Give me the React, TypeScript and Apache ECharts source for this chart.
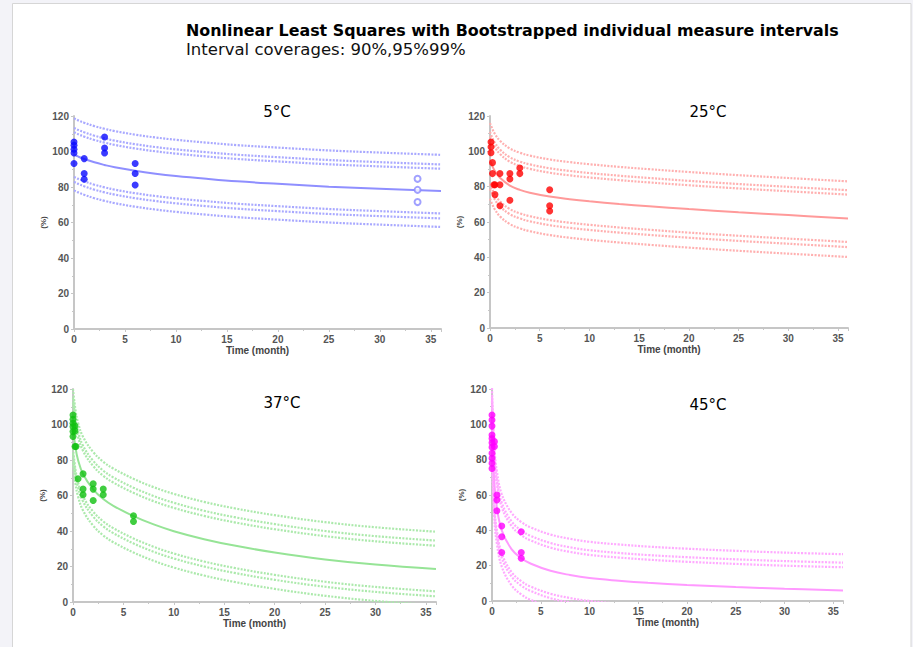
import React, { useEffect, useRef } from 'react';
import * as echarts from 'echarts';

// Time grid at which the curves were read (months)
const T = [0, 0.25, 0.5, 1, 2, 3, 4, 6, 8, 10, 13, 16, 20, 25, 30, 36];

// ---- 5°C ----
const mean5 = [98.3, 97.6, 96.9, 95.8, 93.9, 92.4, 91.1, 89.1, 87.5, 86.2, 84.6, 83.2, 81.8, 80.2, 79.0, 77.7];
const up99_5 = [118.7, 118.0, 117.3, 116.2, 114.3, 112.8, 111.5, 109.5, 107.9, 106.6, 105.0, 103.6, 102.2, 100.6, 99.4, 98.1];
const up95_5 = [113.3, 112.6, 111.9, 110.8, 108.9, 107.4, 106.1, 104.1, 102.5, 101.2, 99.6, 98.2, 96.8, 95.2, 94.0, 92.7];
const up90_5 = [110.9, 110.2, 109.5, 108.4, 106.5, 105.0, 103.7, 101.7, 100.1, 98.8, 97.2, 95.8, 94.4, 92.8, 91.6, 90.3];
const lo90_5 = [85.7, 85.0, 84.3, 83.2, 81.3, 79.8, 78.5, 76.5, 74.9, 73.6, 72.0, 70.6, 69.2, 67.6, 66.4, 65.1];
const lo95_5 = [82.9, 82.2, 81.5, 80.4, 78.5, 77.0, 75.7, 73.7, 72.1, 70.8, 69.2, 67.8, 66.4, 64.8, 63.6, 62.3];
const lo99_5 = [78.1, 77.4, 76.7, 75.6, 73.7, 72.2, 70.9, 68.9, 67.3, 66.0, 64.4, 63.0, 61.6, 60.0, 58.8, 57.5];
const pts5T = [0, 0, 0, 0, 0, 1, 1, 1, 3, 3, 3, 6, 6, 6];
const pts5V = [105.4, 103.5, 101.3, 99.2, 93.2, 96, 87.6, 84.4, 108.2, 102, 99.2, 93.2, 87.6, 81.1];
const open5T = [33.7, 33.7, 33.7];
const open5V = [84.6, 78.4, 71.5];

// ---- 25°C ----
const mean25 = [95, 91.5, 88.8, 85, 80.6, 78.2, 76.6, 74.4, 72.9, 71.7, 70.2, 68.9, 67.3, 65.5, 63.9, 62];
const up99_25 = [116, 112.5, 109.8, 106, 101.6, 99.2, 97.6, 95.4, 93.9, 92.7, 91.2, 89.9, 88.3, 86.5, 84.9, 83];
const up95_25 = [111, 107.5, 104.8, 101, 96.6, 94.2, 92.6, 90.4, 88.9, 87.7, 86.2, 84.9, 83.3, 81.5, 79.9, 78];
const up90_25 = [108.5, 105, 102.3, 98.5, 94.1, 91.7, 90.1, 87.9, 86.4, 85.2, 83.7, 82.4, 80.8, 79, 77.4, 75.5];
const lo90_25 = [81.7, 78.2, 75.5, 71.7, 67.3, 64.9, 63.3, 61.1, 59.6, 58.4, 56.9, 55.6, 54, 52.2, 50.6, 48.7];
const lo95_25 = [78.8, 75.3, 72.6, 68.8, 64.4, 62, 60.4, 58.2, 56.7, 55.5, 54, 52.7, 51.1, 49.3, 47.7, 45.8];
const lo99_25 = [73.2, 69.7, 67, 63.2, 58.8, 56.4, 54.8, 52.6, 51.1, 49.9, 48.4, 47.1, 45.5, 43.7, 42.1, 40.2];
const pts25T = [0.1, 0.1, 0.1, 0.25, 0.25, 0.4, 0.5, 0.5, 1, 1, 1, 2, 2, 2, 3, 3, 6, 6, 6];
const pts25V = [105.3, 102.5, 99.2, 93.6, 87.4, 81.1, 81.1, 75.5, 87.4, 81.1, 69.2, 87.4, 84.3, 72.3, 90.6, 87.4, 78.3, 69.2, 66.2];

// ---- 37°C ----
const mean37 = [99, 87, 80, 72, 63.5, 58, 54.2, 48.4, 43.7, 39.9, 35.4, 31.8, 27.9, 24.0, 21.1, 18.6];
const up99_37 = [120, 108, 101, 93, 84.5, 79, 75.2, 69.4, 64.7, 60.9, 56.4, 52.8, 48.9, 45, 42.1, 39.6];
const up95_37 = [115, 103, 96, 88, 79.5, 74, 70.2, 64.4, 59.7, 55.9, 51.4, 47.8, 43.9, 40, 37.1, 34.6];
const up90_37 = [112.1, 100.1, 93.1, 85.1, 76.6, 71.1, 67.3, 61.5, 56.8, 53, 48.5, 44.9, 41, 37.1, 34.2, 31.7];
const lo90_37 = [86.4, 74.4, 67.4, 59.4, 50.9, 45.4, 41.6, 35.8, 31.1, 27.3, 22.8, 19.2, 15.3, 11.4, 8.5, 6];
const lo95_37 = [83.6, 71.6, 64.6, 56.6, 48.1, 42.6, 38.8, 33, 28.3, 24.5, 20, 16.4, 12.5, 8.6, 5.7, 3.2];
const lo99_37 = [78.5, 66.5, 59.5, 51.5, 43, 37.5, 33.7, 27.9, 23.2, 19.4, 14.9, 11.3, 7.4, 3.5, 0.6, -1.9];
const pts37T = [0, 0, 0, 0, 0, 0, 0.2, 0.2, 0.2, 0.3, 0.5, 1, 1, 1, 2, 2, 2, 3, 3, 6, 6];
const pts37V = [105.4, 102.9, 100.7, 98.8, 96, 93.2, 99.2, 96.4, 87.6, 87.6, 69.4, 72.2, 63.6, 60.4, 66.6, 63.6, 57.2, 63.6, 60.4, 48.6, 45.4];

// ---- 45°C ----
const mean45 = [100, 66, 53, 40, 29.4, 24.2, 21.1, 17.1, 14.7, 13.0, 11.5, 10.3, 9.1, 7.9, 6.9, 6.0];
const up99_45 = [120.5, 86.5, 73.5, 60.5, 49.9, 44.7, 41.6, 37.6, 35.2, 33.5, 32, 30.8, 29.6, 28.4, 27.4, 26.5];
const up95_45 = [115.7, 81.7, 68.7, 55.7, 45.1, 39.9, 36.8, 32.8, 30.4, 28.7, 27.2, 26, 24.8, 23.6, 22.6, 21.7];
const up90_45 = [113.1, 79.1, 66.1, 53.1, 42.5, 37.3, 34.2, 30.2, 27.8, 26.1, 24.6, 23.4, 22.2, 21, 20, 19.1];
const lo90_45 = [87, 53, 40, 27, 16.4, 11.2, 8.1, 4.1, 1.7, 0, -1.5, -2.7, -3.9, -5.1, -6.1, -7];
const lo95_45 = [84.5, 50.5, 37.5, 24.5, 13.9, 8.7, 5.6, 1.6, -0.8, -2.5, -4, -5.2, -6.4, -7.6, -8.6, -9.5];
const lo99_45 = [79.5, 45.5, 32.5, 19.5, 8.9, 3.7, 0.6, -3.4, -5.8, -7.5, -9, -10.2, -11.4, -12.6, -13.6, -14.5];
const pts45T = [0, 0, 0, 0, 0, 0, 0, 0, 0, 0, 0, 0.25, 0.25, 0.5, 0.5, 0.5, 1, 1, 1, 3, 3, 3];
const pts45V = [105.3, 102.5, 99, 94, 92, 89.6, 87, 83.6, 80.8, 78, 75, 90.2, 87.4, 60, 57.2, 51.1, 42.5, 36.4, 27.4, 39.2, 27.4, 24.2];

const xTicks = [0, 5, 10, 15, 20, 25, 30, 35];
const yTicks = [0, 20, 40, 60, 80, 100, 120];

const panels = [
  {
    label: '5°C', grid: { left: 74, top: 116, width: 367, height: 213 }, titlePos: [277, 112],
    mean: mean5, bounds: [up99_5, up95_5, up90_5, lo90_5, lo95_5, lo99_5], ptsT: pts5T, ptsV: pts5V,
    openT: open5T, openV: open5V,
    point: '#0a0aff', line: '#8f8fff', band: '#a9a9ff',
  },
  {
    label: '25°C', grid: { left: 490, top: 116, width: 358, height: 212 }, titlePos: [708, 112],
    mean: mean25, bounds: [up99_25, up95_25, up90_25, lo90_25, lo95_25, lo99_25], ptsT: pts25T, ptsV: pts25V,
    point: '#ff0000', line: '#ff9a9a', band: '#ffb0b0',
  },
  {
    label: '37°C', grid: { left: 73, top: 389, width: 363, height: 213 }, titlePos: [282, 403],
    mean: mean37, bounds: [up99_37, up95_37, up90_37, lo90_37, lo95_37, lo99_37], ptsT: pts37T, ptsV: pts37V,
    point: '#10c010', line: '#96e496', band: '#ace9ac',
  },
  {
    label: '45°C', grid: { left: 492, top: 389, width: 351, height: 212 }, titlePos: [708, 405],
    mean: mean45, bounds: [up99_45, up95_45, up90_45, lo90_45, lo95_45, lo99_45], ptsT: pts45T, ptsV: pts45V,
    point: '#ff00ff', line: '#ff99ff', band: '#ffaaff',
  },
];

const axisFont = { fontSize: 10, fontWeight: 'bold' as const, color: '#555', fontFamily: 'Liberation Sans' };

export default function App() {
  const ref = useRef<HTMLDivElement>(null);
  useEffect(() => {
    if (!ref.current) return;
    const chart = echarts.init(ref.current, undefined, { renderer: 'svg' });
    const grids: any[] = [];
    const xAxes: any[] = [];
    const yAxes: any[] = [];
    const series: any[] = [];
    const graphics: any[] = [
      {
        type: 'rect', z: -1, silent: true,
        shape: { x: 12.5, y: 3.5, width: 898.5, height: 650 },
        style: { fill: '#ffffff', stroke: '#d6d6d6', lineWidth: 1 },
      },
      {
        type: 'text', x: 186, y: 31, scaleX: 1.06, silent: true,
        style: {
          text: 'Nonlinear Least Squares with Bootstrapped individual measure intervals',
          fill: '#000', font: 'bold 15px "DejaVu Sans"',
          align: 'left', verticalAlign: 'middle', textAlign: 'left', textVerticalAlign: 'middle',
        },
      },
      {
        type: 'text', x: 186, y: 49, silent: true,
        style: {
          text: 'Interval coverages: 90%,95%99%',
          fill: '#111', font: '16.5px "DejaVu Sans"',
          align: 'left', verticalAlign: 'middle', textAlign: 'left', textVerticalAlign: 'middle',
        },
      },
    ];

    panels.forEach((p, i) => {
      grids.push({ ...p.grid, containLabel: false });
      xAxes.push({
        type: 'value', gridIndex: i, min: 0, max: 36, interval: 5,
        name: 'Time (month)', nameLocation: 'middle', nameGap: 16,
        nameTextStyle: { ...axisFont, color: '#444' },
        axisLine: { show: true, onZero: false, lineStyle: { color: '#c6c6c6', width: 2 } },
        axisTick: { show: true, length: 3, lineStyle: { color: '#c6c6c6' } },
        minorTick: { show: true, splitNumber: 2, length: 2, lineStyle: { color: '#c6c6c6' } },
        axisLabel: { ...axisFont, margin: 5, formatter: (v: number) => (xTicks.includes(v) ? String(v) : '') },
        splitLine: { show: false },
      });
      yAxes.push({
        type: 'value', gridIndex: i, min: 0, max: 120, interval: 20,
        name: '(%)', nameLocation: 'middle', nameGap: 27, nameRotate: 90,
        nameTextStyle: { ...axisFont, fontSize: 8, color: '#444' },
        axisLine: { show: true, onZero: false, lineStyle: { color: '#c6c6c6', width: 2 } },
        axisTick: { show: true, length: 3, lineStyle: { color: '#c6c6c6' } },
        minorTick: { show: true, splitNumber: 2, length: 2, lineStyle: { color: '#c6c6c6' } },
        axisLabel: { ...axisFont, margin: 5, formatter: (v: number) => (yTicks.includes(v) ? String(v) : '') },
        splitLine: { show: false },
      });
      p.bounds.forEach((b) => {
        series.push({
          type: 'line', xAxisIndex: i, yAxisIndex: i, symbol: 'none', silent: true,
          smooth: 0.4, clip: true, z: 1,
          data: T.map((t, k) => [t, b[k]]),
          lineStyle: { color: p.band, width: 2.2, type: [2, 1.4] },
        });
      });
      series.push({
        type: 'line', xAxisIndex: i, yAxisIndex: i, symbol: 'none', silent: true,
        smooth: 0.4, clip: true, z: 2,
        data: T.map((t, k) => [t, p.mean[k]]),
        lineStyle: { color: p.line, width: 2 },
      });
      series.push({
        type: 'scatter', xAxisIndex: i, yAxisIndex: i, symbol: 'circle', symbolSize: 7, silent: true, z: 3,
        data: p.ptsT.map((t, k) => [t, p.ptsV[k]]),
        itemStyle: { color: p.point },
      });
      if (p.openT) {
        series.push({
          type: 'scatter', xAxisIndex: i, yAxisIndex: i, symbol: 'emptyCircle', symbolSize: 6, silent: true, z: 3,
          data: p.openT.map((t, k) => [t, p.openV![k]]),
          itemStyle: { color: '#8a8aff', borderColor: '#8a8aff', borderWidth: 1.5 },
        });
      }
      graphics.push({
        type: 'text', x: p.titlePos[0], y: p.titlePos[1], silent: true,
        style: {
          text: p.label, fill: '#000', font: '15px "DejaVu Sans"',
          align: 'center', verticalAlign: 'middle', textAlign: 'center', textVerticalAlign: 'middle',
        },
      });
    });

    chart.setOption({
      animation: false,
      backgroundColor: '#f3f3f8',
      grid: grids,
      xAxis: xAxes,
      yAxis: yAxes,
      series,
      graphic: graphics,
    });
    return () => chart.dispose();
  }, []);
  return <div ref={ref} style={{ position: 'fixed', left: 0, top: 0, width: 913, height: 647 }} />;
}
